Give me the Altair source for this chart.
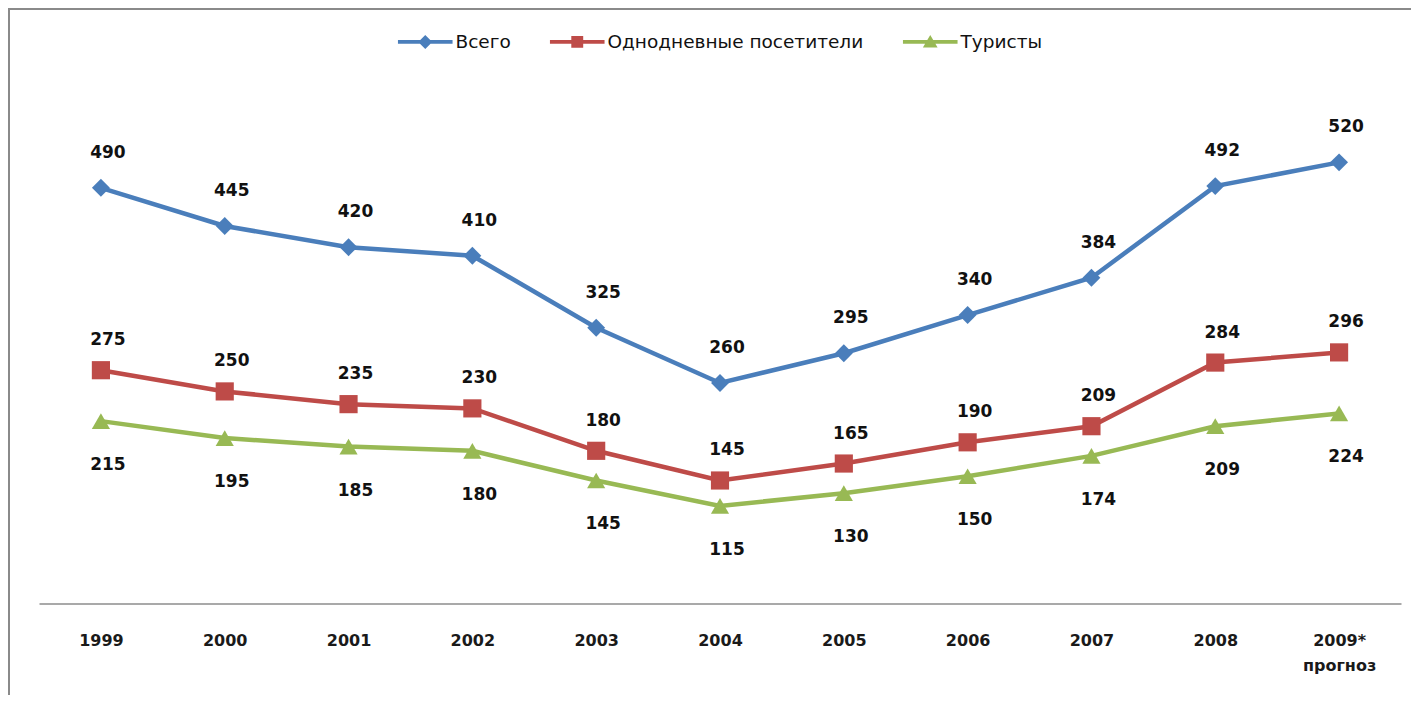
import altair as alt
import pandas as pd

years = ["1999", "2000", "2001", "2002", "2003", "2004", "2005", "2006", "2007", "2008", "2009*"]
vsego = [490, 445, 420, 410, 325, 260, 295, 340, 384, 492, 520]
odnodn = [275, 250, 235, 230, 180, 145, 165, 190, 209, 284, 296]
turisty = [215, 195, 185, 180, 145, 115, 130, 150, 174, 209, 224]
series = ["Всего", "Однодневные посетители", "Туристы"]
colors = ["#4A7EBB", "#BE4B48", "#98B954"]

rows = []
for name, vals in zip(series, [vsego, odnodn, turisty]):
    for y, v in zip(years, vals):
        rows.append({"year": y, "value": v, "series": name})
df = pd.DataFrame(rows)

W, H = 1362, 509
PAD = {"left": 31, "top": 86.5, "right": 10, "bottom": 91.5}

xenc = alt.X("year:N", sort=years, axis=alt.Axis(
    title=None, domainColor="#8C8C8C", domainWidth=1.5, ticks=False, grid=False,
    labelAngle=0, labelFont="DejaVu Sans", labelFontWeight="bold", labelFontSize=16,
    labelColor="#1A1A1A", labelPadding=29, labelLineHeight=25,
    labelExpr="datum.value == '2009*' ? ['2009*', 'прогноз'] : datum.label"))
yenc = alt.Y("value:Q", scale=alt.Scale(domain=[0, 600]), axis=None)

base = alt.Chart(df)

shapes = ["diamond", "square", "triangle-up"]
sizes = [320, 330, 330]
lab_dy = [-35, -30, 44]
layers = []
for name, col, shp, sz, dy in zip(series, colors, shapes, sizes, lab_dy):
    sub = base.transform_filter(alt.datum.series == name)
    layers.append(sub.mark_line(strokeWidth=4.5, color=col).encode(x=xenc, y=yenc))
    layers.append(sub.mark_point(shape=shp, filled=True, size=sz, opacity=1, color=col)
                  .encode(x=xenc, y=yenc))
    layers.append(sub.mark_text(font="DejaVu Sans", fontWeight="bold", fontSize=17, dx=7,
                                dy=dy, color="#111111")
                  .encode(x=xenc, y=yenc, text="value:Q"))

leg_paths = [
    "M-3.9,-0.28H3.9V0.28H-3.9Z M0,-1L1,0L0,1L-1,0Z",
    "M-3.9,-0.28H3.9V0.28H-3.9Z M-0.85,-0.85H0.85V0.85H-0.85Z",
    "M-3.9,-0.28H3.9V0.28H-3.9Z M0,-1L1.05,0.8L-1.05,0.8Z",
]
leg = alt.Legend(title=None, orient="none", direction="horizontal",
                 legendX=377, legendY=-62,
                 symbolSize=196, symbolStrokeWidth=0, labelOffset=21,
                 columnPadding=38, labelFont="DejaVu Sans",
                 labelFontSize=18.5, labelColor="#111111",
                 labelLimit=400, padding=0)
legend_layer = base.transform_filter("false").mark_point(filled=True, opacity=1).encode(
    x=xenc, y=yenc,
    color=alt.Color("series:N", scale=alt.Scale(domain=series, range=colors), legend=leg),
    shape=alt.Shape("series:N", scale=alt.Scale(domain=series, range=leg_paths), legend=leg),
)

frame = alt.Chart(alt.Data(values=[{"a": 1}]))
left_border = frame.mark_rule(color="#8A8A8A", strokeWidth=2).encode(
    x=alt.value(-PAD["left"] + 1), y=alt.value(-PAD["top"]), y2=alt.value(H + PAD["bottom"]))
top_border = frame.mark_rule(color="#8A8A8A", strokeWidth=2).encode(
    x=alt.value(-PAD["left"]), x2=alt.value(W + PAD["right"]), y=alt.value(-PAD["top"] + 1))

chart = alt.layer(left_border, top_border, *layers, legend_layer).properties(
    width=W, height=H, padding=PAD, autosize=alt.AutoSizeParams(type="none"),
    background="white"
).configure_view(stroke=None)

chart.save("out.html", embed_options={"renderer": "svg", "actions": False})
